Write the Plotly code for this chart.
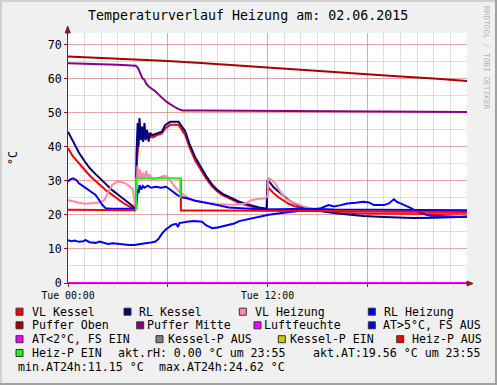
import plotly.graph_objects as go

# ---------------- data (hours since 00:00, °C) ----------------
t_vl_kessel = [0, 0.3, 0.66, 1.0, 1.3, 1.66, 2.0, 2.3, 2.66, 3.0, 3.3, 3.67, 4.0, 4.08, 4.15, 4.25, 4.35, 4.45,
               4.55, 4.65, 4.8, 4.95, 5.1, 5.35, 5.65, 5.85, 6.15, 6.65, 6.79, 7.05, 7.3, 7.65, 8.0, 8.3, 8.66,
               9.0, 9.3, 9.66, 10.0, 10.3, 10.66, 11.0, 11.5, 11.95, 12.0, 12.15, 12.4, 12.66, 13.0, 13.27,
               13.6, 14.07, 14.5, 15.0, 16.0, 18.0, 20.0, 22.0, 24.0]
vl_kessel = [39.6, 37.2, 35.2, 33.2, 31.6, 30.0, 28.4, 27.2, 25.9, 24.6, 23.6, 22.5, 21.8, 22.5, 36.0, 42.0, 45.5, 43.0,
             45.5, 43.0, 44.0, 43.0, 42.8, 43.5, 44.0, 45.5, 46.5, 46.5, 45.5, 43.5, 40.0, 36.0, 33.2, 30.8, 28.4,
             26.8, 25.8, 24.9, 24.1, 23.5, 23.0, 22.5, 22.0, 21.6, 28.3, 27.5, 26.2, 25.2, 24.1, 23.3,
             22.6, 21.9, 21.5, 21.2, 20.8, 20.4, 20.3, 20.3, 20.4]

t_rl_kessel = [0, 0.3, 0.66, 1.0, 1.3, 1.66, 2.0, 2.3, 2.66, 3.0, 3.3, 3.67, 4.0, 4.08, 4.12, 4.19, 4.23, 4.3, 4.38,
               4.45, 4.52, 4.6, 4.67, 4.75, 4.85, 4.95, 5.1, 5.35, 5.65, 5.85, 6.15, 6.65, 6.79, 7.05, 7.3, 7.65,
               8.0, 8.3, 8.66, 9.0, 9.3, 9.66, 10.0, 10.3, 10.66, 11.0, 11.5, 11.95, 12.0, 12.15, 12.4, 12.66,
               13.0, 13.27, 13.6, 14.07, 14.5, 15.0, 16.07, 17.0, 17.78, 19.0, 20.78, 22.0, 23.0, 24.0]
rl_kessel = [44.5, 41.5, 38.3, 35.8, 33.8, 32.0, 30.3, 28.9, 27.3, 26.0, 24.9, 23.5, 22.2, 23.0, 38.0, 47.0, 40.0, 48.5, 42.0,
             46.0, 41.5, 47.0, 42.0, 45.0, 41.6, 44.0, 43.5, 44.0, 44.5, 46.5, 47.4, 47.4, 46.5, 44.6, 41.0, 37.0,
             34.0, 31.5, 29.0, 27.3, 26.2, 25.3, 24.5, 23.9, 23.3, 22.8, 22.2, 21.8, 30.3, 29.5, 28.0, 26.9,
             25.5, 24.4, 23.4, 22.4, 21.8, 21.3, 20.5, 20.1, 19.7, 19.4, 19.1, 19.2, 19.3, 19.5]

t_vl_heizung = [0, 0.3, 0.66, 1.0, 1.3, 1.66, 2.0, 2.2, 2.4, 2.66, 2.9, 3.1, 3.46, 3.7, 3.9, 4.05, 4.12, 4.18, 4.25,
                4.32, 4.4, 4.5, 4.6, 4.7, 4.8, 4.9, 5.0, 5.2, 5.5, 5.8, 5.96, 6.1, 6.36, 6.6, 6.96, 7.3, 7.65,
                7.96, 8.5, 9.0, 9.66, 10.2, 10.66, 11.07, 11.5, 11.87, 12.0, 12.05, 12.2, 12.46, 12.75, 13.07,
                13.4, 13.67, 14.07, 14.47, 15.0, 16.0, 18.0, 20.0, 22.0, 24.0]
vl_heizung = [24.4, 24.0, 23.6, 23.3, 23.3, 23.5, 23.8, 24.5, 26.5, 28.8, 29.7, 29.8, 29.3, 28.5, 27.5, 22.4, 25.0, 34.5, 31.0,
              33.5, 30.5, 32.5, 30.5, 33.0, 31.0, 32.0, 30.5, 30.5, 31.0, 31.5, 31.3, 30.5, 28.8, 27.3, 25.9, 24.9, 24.2,
              23.9, 23.5, 23.2, 23.0, 23.1, 23.4, 24.4, 24.8, 24.9, 25.5, 30.8, 30.5, 29.3, 27.0, 24.9,
              23.9, 23.4, 22.6, 22.0, 21.6, 21.2, 20.9, 20.8, 20.7, 20.7]

t_rl_heizung = [0, 0.15, 0.3, 0.5, 0.66, 1.0, 1.26, 1.5, 1.66, 1.9, 2.06, 2.26, 2.6, 3.0, 3.5, 4.0, 4.1, 4.15, 4.2,
                4.25, 4.3, 4.4, 4.5, 4.6, 4.8, 5.0, 5.3, 5.6, 5.9, 6.16, 6.3, 6.56, 6.85, 7.16, 7.65, 8.36, 9.0,
                9.66, 10.5, 11.67, 12.5, 13.5, 14.5, 16.0, 18.0, 20.0, 22.0, 24.0]
rl_heizung = [29.8, 30.5, 30.8, 30.3, 29.3, 28.2, 27.4, 26.5, 25.9, 24.2, 23.0, 22.0, 21.8, 21.8, 21.8, 21.9, 22.2, 25.5, 27.5,
              26.5, 28.8, 27.5, 28.5, 28.0, 28.6, 28.0, 28.3, 28.0, 28.3, 27.4, 26.8, 25.9, 25.2, 24.9, 24.2, 23.6, 22.9,
              22.2, 21.9, 21.6, 21.7, 21.8, 21.8, 21.6, 21.5, 21.4, 21.4, 21.4]

t_puffer_oben = [0, 2, 4, 6, 8, 10, 12, 14, 16, 18, 20, 22, 24]
puffer_oben = [66.6, 66.2, 65.8, 65.3, 64.7, 64.0, 63.3, 62.7, 62.1, 61.4, 60.7, 60.1, 59.4]

t_puffer_mitte = [0, 1, 2, 3, 4.07, 4.2, 4.3, 4.4, 4.47, 4.6, 4.7, 4.87, 5.07, 5.27, 5.47, 5.67, 5.87, 6.07,
                  6.27, 6.47, 6.67, 6.88, 8, 12, 16, 20, 24]
puffer_mitte = [64.6, 64.5, 64.3, 64.2, 63.9, 63.3, 62.2, 61.0, 60.2, 59.7, 58.6, 57.7, 57.0, 56.3, 55.3, 54.3, 53.5, 52.8,
                52.1, 51.6, 51.1, 50.7, 50.7, 50.6, 50.5, 50.4, 50.3]

t_luftfeuchte = [0, 24]
luftfeuchte = [0.0, 0.0]

t_at = [0, 0.2, 0.4, 0.66, 0.9, 1.06, 1.3, 1.66, 1.9, 2.1, 2.4, 2.7, 3.0, 3.3, 3.67, 4.0, 4.3, 4.66, 5.0, 5.26,
        5.45, 5.66, 5.9, 6.26, 6.5, 6.62, 6.7, 7.0, 7.26, 7.6, 8.06, 8.3, 8.66, 9.0, 9.3, 9.66, 10.0, 10.3,
        10.66, 11.0, 11.3, 11.67, 12.0, 12.3, 12.66, 13.2, 13.67, 14.2, 14.67, 15.2, 15.67, 16.0, 16.4, 16.8,
        17.3, 17.78, 18.1, 18.4, 19.0, 19.3, 19.6, 19.8, 20.0, 20.3, 20.6, 20.9, 21.2, 21.5, 21.8, 22.5, 23.0,
        23.5, 24.0]
at = [12.6, 12.3, 12.5, 12.1, 12.3, 12.6, 12.0, 11.8, 12.2, 11.9, 11.5, 11.7, 11.5, 11.3, 11.2, 11.15, 11.5, 11.7, 11.9, 12.2,
      13.0, 14.6, 15.8, 17.1, 17.4, 16.5, 17.6, 17.9, 18.1, 18.2, 18.0, 17.0, 16.1, 16.3, 16.6, 17.1, 17.5, 18.2,
      18.6, 18.9, 19.4, 19.6, 20.0, 20.2, 20.5, 20.8, 21.0, 21.3, 21.5, 22.0, 22.9, 22.5, 22.9, 23.4,
      23.6, 23.9, 23.7, 22.9, 22.9, 23.4, 24.62, 23.8, 23.4, 22.8, 22.1, 21.3, 20.6, 20.1, 19.8, 19.6, 19.5,
      19.5, 19.56]

t_heizp_aus = [0, 2, 4.1, None, 6.79, 6.79, 9, 12, 15, 18, 21, 24]
heizp_aus = [21.5, 21.45, 21.4, None, 30.8, 21.35, 21.3, 21.2, 21.1, 21.0, 20.9, 20.9]

t_heizp_ein = [4.1, 4.1, 6.77, 6.77]
heizp_ein = [21.4, 30.8, 30.8, 25.0]

x_tickvals = [0, 6, 12, 18]
x_ticktext = ["Tue 00:00", "", "Tue 12:00", ""]
y_tickvals = [0, 10, 20, 30, 40, 50, 60, 70]

title_text = "Temperaturverlauf Heizung am: 02.06.2015"
y_title = "°C"
watermark = "RRDTOOL / TOBI OETIKER"

legend_labels = ["VL Kessel", "RL Kessel", "VL Heizung", "RL Heizung",
                 "Puffer Oben", "Puffer Mitte", "Luftfeuchte", "AT>5°C, FS AUS",
                 "AT<2°C, FS EIN", "Kessel-P AUS", "Kessel-P EIN", "Heiz-P AUS",
                 "Heiz-P EIN"]
legend_colors = ["#ff0000", "#000080", "#ff88a8", "#0000ff",
                 "#aa0000", "#880088", "#ff00ff", "#0000ff",
                 "#ff00ff", "#808080", "#cccc00", "#ff0000",
                 "#22ee22"]
info_texts = ["akt.rH: 0.00 °C um 23:55", "akt.AT:19.56 °C um 23:55",
              "min.AT24h:11.15 °C", "max.AT24h:24.62 °C"]

# ---------------- layout helpers ----------------
WID, HEI = 497, 385
L, T, W, H = 68, 33, 399, 250
MONO = "DejaVu Sans Mono"


def px(x):
    return (x - L) / W


def py(y):
    return (T + H - y) / H


fig = go.Figure()

plot_series = [
    (t_vl_kessel, vl_kessel, 0),
    (t_rl_kessel, rl_kessel, 1),
    (t_vl_heizung, vl_heizung, 2),
    (t_rl_heizung, rl_heizung, 3),
    (t_puffer_oben, puffer_oben, 4),
    (t_puffer_mitte, puffer_mitte, 5),
    (t_luftfeuchte, luftfeuchte, 6),
    (t_at, at, 7),
    (t_heizp_aus, heizp_aus, 11),
    (t_heizp_ein, heizp_ein, 12),
]
for tx, vy, idx in plot_series:
    fig.add_trace(go.Scatter(x=tx, y=vy, mode="lines", name=legend_labels[idx],
                             line=dict(color=legend_colors[idx], width=2),
                             showlegend=False, connectgaps=False, hoverinfo="skip"))

axis_col = "#8b1a1a"
major_grid = "rgba(240,100,100,0.45)"
minor_grid = "rgba(0,0,0,0.13)"

fig.update_layout(
    width=WID, height=HEI, autosize=False,
    margin=dict(l=L, r=WID - L - W, t=T, b=HEI - T - H, pad=0),
    paper_bgcolor="#f0f0f0", plot_bgcolor="#ffffff",
    font=dict(family=MONO, color="#000000"),
    hovermode=False,
    xaxis=dict(range=[0, 24], tickmode="array", tickvals=x_tickvals, ticktext=x_ticktext,
               showgrid=True, gridcolor=major_grid, gridwidth=1, zeroline=False,
               showline=True, linecolor=axis_col, linewidth=1,
               ticks="outside", ticklen=3, tickcolor=axis_col,
               tickfont=dict(family=MONO, size=9.8, color="#000000"),
               minor=dict(tickmode="linear", tick0=0, dtick=1, showgrid=True,
                          gridcolor=minor_grid, gridwidth=1, ticks="")),
    yaxis=dict(range=[0, 73.5], tickmode="array", tickvals=y_tickvals,
               showgrid=True, gridcolor=major_grid, gridwidth=1, zeroline=False,
               showline=True, linecolor=axis_col, linewidth=1,
               ticks="outside", ticklen=3, tickcolor=axis_col,
               tickfont=dict(family=MONO, size=11.6, color="#000000"),
               minor=dict(tickmode="linear", tick0=0, dtick=5, showgrid=True,
                          gridcolor=minor_grid, gridwidth=1, ticks="")),
)

annotations = []
shapes = []

# title
annotations.append(dict(text=title_text, x=px(247.5), y=py(16), xref="paper", yref="paper",
                        xanchor="center", yanchor="middle", showarrow=False,
                        font=dict(family=MONO, size=13.3, color="#000000")))
# y-axis title
annotations.append(dict(text=y_title, x=px(13), y=py(158), xref="paper", yref="paper",
                        xanchor="center", yanchor="middle", showarrow=False, textangle=-90,
                        font=dict(family=MONO, size=11.6, color="#000000")))
# watermark
annotations.append(dict(text=watermark, x=px(486), y=py(58), xref="paper", yref="paper",
                        xanchor="center", yanchor="middle", showarrow=False, textangle=90,
                        font=dict(family=MONO, size=7.8, color="#b4b4b4")))

# legend layout (pixel positions)
row_y = [311.7, 325.3, 339.2, 353.0, 366.8]
legend_pos = [
    (0, 16, 30.7), (0, 124, 138.3), (0, 239.3, 254), (0, 368.3, 382.7),
    (1, 16, 30.7), (1, 136.7, 145.7), (1, 254, 263.3), (1, 368.3, 382.3),
    (2, 16, 30.7), (2, 156, 166.7), (2, 278.3, 288.7), (2, 396.7, 410.7),
    (3, 16, 30.7),
]
for i, (r, bx, tx) in enumerate(legend_pos):
    cy = row_y[r]
    shapes.append(dict(type="rect", xref="paper", yref="paper",
                       x0=px(bx), x1=px(bx + 7), y0=py(cy + 3.5), y1=py(cy - 3.5),
                       fillcolor=legend_colors[i], line=dict(color="#333333", width=1)))
    annotations.append(dict(text=legend_labels[i], x=px(tx - 1), y=py(cy), xref="paper", yref="paper",
                            xanchor="left", yanchor="middle", showarrow=False,
                            font=dict(family=MONO, size=11.6, color="#000000")))
info_pos = [(3, 116.7), (3, 312.3), (4, 16.7), (4, 158.3)]
for txt, (r, tx) in zip(info_texts, info_pos):
    annotations.append(dict(text=txt, x=px(tx - 1), y=py(row_y[r]), xref="paper", yref="paper",
                            xanchor="left", yanchor="middle", showarrow=False,
                            font=dict(family=MONO, size=11.6, color="#000000")))

# axis arrows
shapes.append(dict(type="path", xref="paper", yref="paper",
                   path=f"M {px(65.2)},{py(33)} L {px(70.2)},{py(33)} L {px(67.7)},{py(26)} Z",
                   fillcolor=axis_col, line=dict(color=axis_col, width=1)))
shapes.append(dict(type="line", xref="paper", yref="paper",
                   x0=px(467), x1=px(469), y0=py(283.5), y1=py(283.5),
                   line=dict(color=axis_col, width=1)))
shapes.append(dict(type="path", xref="paper", yref="paper",
                   path=f"M {px(467)},{py(281)} L {px(467)},{py(286)} L {px(473)},{py(283.5)} Z",
                   fillcolor=axis_col, line=dict(color=axis_col, width=1)))

# frame of the image (3D border)
shapes.append(dict(type="rect", xref="paper", yref="paper", x0=px(0), x1=px(WID), y0=py(0), y1=py(2),
                   fillcolor="#d0d0d0", line=dict(width=0), layer="below"))
shapes.append(dict(type="rect", xref="paper", yref="paper", x0=px(0), x1=px(2), y0=py(0), y1=py(HEI),
                   fillcolor="#d0d0d0", line=dict(width=0), layer="below"))
shapes.append(dict(type="rect", xref="paper", yref="paper", x0=px(0), x1=px(WID), y0=py(HEI - 2), y1=py(HEI),
                   fillcolor="#a0a0a0", line=dict(width=0)))
shapes.append(dict(type="rect", xref="paper", yref="paper", x0=px(WID - 2), x1=px(WID), y0=py(0), y1=py(HEI),
                   fillcolor="#a0a0a0", line=dict(width=0)))

fig.update_layout(annotations=annotations, shapes=shapes)

fig.write_html("out.html",
               config={"displayModeBar": False, "staticPlot": True},
               post_script="document.body.style.margin='0';document.body.style.padding='0';"
                           "document.body.style.overflow='hidden';")
